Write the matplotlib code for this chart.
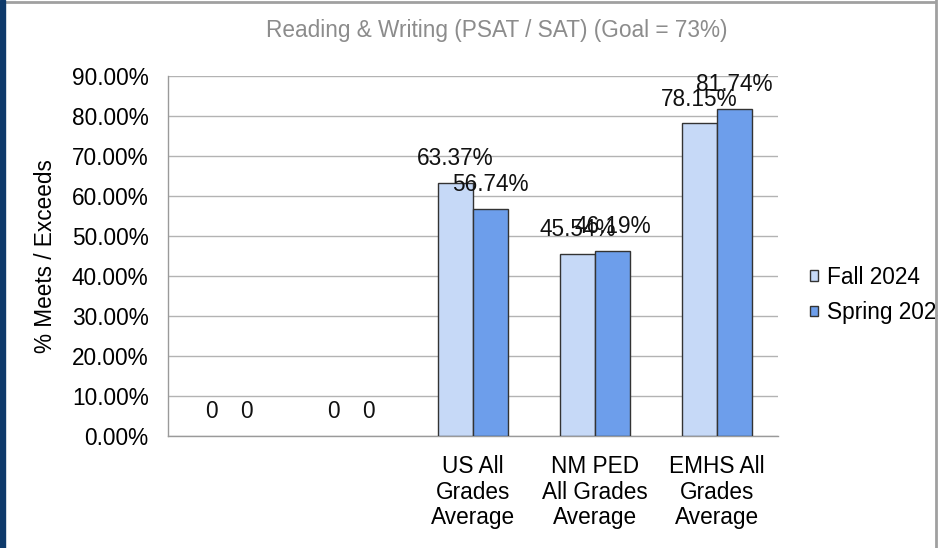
import matplotlib
matplotlib.use("Agg")
import matplotlib.pyplot as plt
import numpy as np
from matplotlib.patches import Rectangle
from matplotlib.lines import Line2D

plt.rcParams["font.family"] = ["Liberation Sans", "DejaVu Sans"]

# data
categories = ["", "", "US All\nGrades\nAverage", "NM PED\nAll Grades\nAverage", "EMHS All\nGrades\nAverage"]
series_names = ["Fall 2024", "Spring 2025"]
fall = [0, 0, 63.37, 45.54, 78.15]
spring = [0, 0, 56.74, 46.19, 81.74]
colors = ["#c6d9f7", "#6d9eeb"]
title = "Reading & Writing (PSAT / SAT) (Goal = 73%)"
ylabel = "% Meets / Exceeds"
yticks = np.arange(0, 91, 10)

W, H = 938, 548
fig = plt.figure(figsize=(W / 100, H / 100), dpi=100)
ax = fig.add_axes([168 / W, (H - 436) / H, 610 / W, 360 / H])

x = np.arange(len(categories))
bw = 0.287
fs = 16.3
for i, (vals, name, c) in enumerate(zip([fall, spring], series_names, colors)):
    pos = x + (i - 0.5) * bw
    lw = [0 if v == 0 else 1.0 for v in vals]
    ax.bar(pos, vals, width=bw, color=c, edgecolor="#333333", linewidth=lw,
           label=name, zorder=3)
    for p, v in zip(pos, vals):
        lab = "0" if v == 0 else f"{v:.2f}%"
        ax.annotate(lab, (p, v), xytext=(0, 17.5), textcoords="offset points",
                    ha="center", va="center", fontsize=fs, color="#111111", zorder=5)

ax.set_xlim(-0.5, len(categories) - 0.5)
ax.set_ylim(0, 90)
ax.set_yticks(yticks)
ax.set_yticklabels([f"{t:.2f}%" for t in yticks], fontsize=fs)
ax.set_xticks(x)
ax.set_xticklabels(categories, fontsize=fs, linespacing=1.12)
ax.tick_params(axis="both", length=0)
ax.tick_params(axis="y", pad=14)
ax.tick_params(axis="x", pad=14)
ax.grid(axis="y", color="#b3b3b3", linewidth=1.0, zorder=0)
for s in ["top", "right"]:
    ax.spines[s].set_visible(False)
for s in ["left", "bottom"]:
    ax.spines[s].set_color("#9a9a9a")
    ax.spines[s].set_linewidth(1.0)

fig.text(497 / W, 1 - 31 / H, title, ha="center", va="center", fontsize=fs, color="#8c8c8c")
fig.text(46 / W, 1 - 256 / H, ylabel, ha="center", va="center", rotation=90, fontsize=fs)

leg = fig.legend(loc="center left", bbox_to_anchor=(810 / W, 1 - 295 / H), frameon=False,
                 fontsize=fs, handlelength=0.35, handleheight=0.35, handletextpad=0.4,
                 labelspacing=0.55, borderaxespad=0, borderpad=0)
for h in leg.legend_handles:
    h.set_linewidth(1.0)

# frame: dark strip on the left, thin gray border top/right
fig.patches.append(Rectangle((0, 0), 5 / W, 1, transform=fig.transFigure,
                             color="#0e3a6b", zorder=10))
fig.lines.append(Line2D([5 / W, 1 - 3 / W], [1 - 1.5 / H, 1 - 1.5 / H],
                        transform=fig.transFigure, color="#a0a0a0", linewidth=2, zorder=10))
fig.lines.append(Line2D([1 - 2.5 / W, 1 - 2.5 / W], [0, 1], transform=fig.transFigure,
                        color="#a0a0a0", linewidth=2, zorder=10))

fig.savefig("out.png", dpi=100)
